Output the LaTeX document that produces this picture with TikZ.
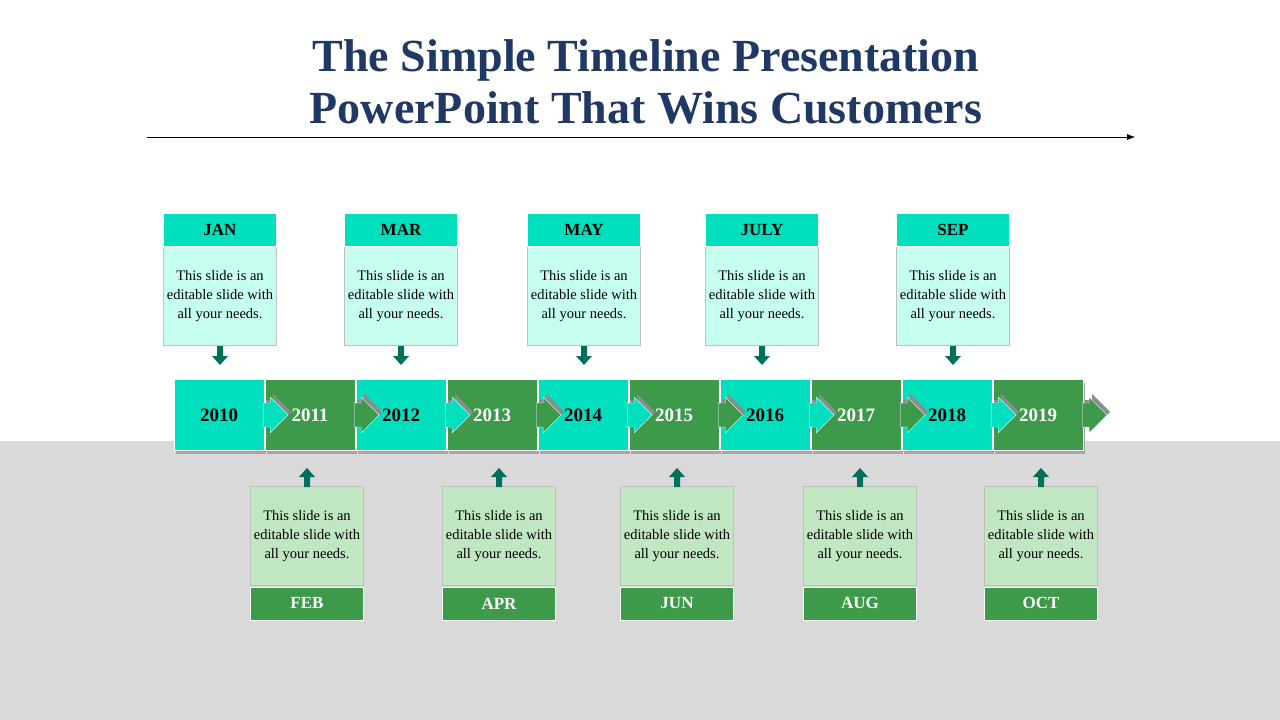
\documentclass[tikz,border=0pt]{standalone}
\usepackage{fontspec}
\setmainfont{Liberation Serif}
\usetikzlibrary{positioning,arrows.meta}
\definecolor{titleblue}{HTML}{1F3864}
\definecolor{aqua}{HTML}{00E0BE}
\definecolor{paleaqua}{HTML}{C6FFF0}
\definecolor{leaf}{HTML}{3C9A4A}
\definecolor{paleleaf}{HTML}{C0E6C2}
\definecolor{darkteal}{HTML}{00705C}
\definecolor{floor}{HTML}{D9D9D9}
\tikzset{yearbox/.style={rectangle,minimum width=90pt,minimum height=71pt,inner sep=0,font=\bfseries\fontsize{19}{19}\selectfont},
    headbox/.style={draw=white,rectangle,minimum width=113pt,minimum height=33pt,inner sep=0,font=\bfseries\fontsize{17}{17}\selectfont},
    textbox/.style={draw=black!25,rectangle,minimum width=113pt,minimum height=99pt,inner sep=0,align=center,font=\fontsize{14.5}{19}\selectfont},
    pointer/.style={fill=darkteal,draw=none}}
\begin{document}
\begin{tikzpicture}[x=1pt,y=-1pt]
\useasboundingbox (0,0) rectangle (1280,720);
\fill[floor] (0,441) rectangle (1280,720);

\node (title) [text=titleblue,align=center,font=\bfseries\fontsize{46}{52}\selectfont] at (646,82) {The Simple Timeline Presentation\\PowerPoint That Wins Customers};
\coordinate (rule a) at (147,137);
\coordinate (rule b) at (1135,137);
\draw [-{Latex[length=8pt,width=6pt]},thin] (rule a) -- (rule b);

% year blocks
\foreach \i/\yr in {0/2010,1/2011,2/2012,3/2013,4/2014,5/2015,6/2016,7/2017,8/2018,9/2019} {
  \pgfmathsetmacro{\cx}{219+91*\i}
  \pgfmathtruncatemacro{\odd}{mod(\i,2)}
  \ifnum\odd=0 \def\bc{aqua}\def\tc{black}\else \def\bc{leaf}\def\tc{white}\fi
  \fill[black!35] (\cx-43,417-34) rectangle (\cx+47,417+37);
  \node (y \i) [yearbox,fill=\bc,draw=white,text=\tc] at (\cx,415) {\yr};
}
% arrow tips on top of the blocks
\foreach \i in {0,...,9} {
  \pgfmathtruncatemacro{\odd}{mod(\i,2)}
  \ifnum\odd=0 \def\bc{aqua}\else \def\bc{leaf}\fi
  \fill[black!45] ([xshift=2pt,yshift=3pt]y \i.east) ++(0,-12) -- ++(7,0) -- ++(0,-6) -- ++(18,18) -- ++(-18,18) -- ++(0,-6) -- ++(-7,0) -- cycle;
  \fill[\bc,draw=white] ([xshift=-1pt]y \i.east) ++(0,-12) -- ++(7,0) -- ++(0,-6) -- ++(18,18) -- ++(-18,18) -- ++(0,-6) -- ++(-7,0) -- cycle;
}

% top notes
\foreach \i/\m/\x in {0/JAN/220,1/MAR/401,2/MAY/584,3/JULY/762,4/SEP/953} {
  \node (tb \i) [textbox,fill=paleaqua] at (\x,296) {This slide is an\\editable slide with\\all your needs.};
  \node (th \i) [headbox,fill=aqua,above=0pt of tb \i] {\m};
  \fill[pointer] (\x-3,346) -- (\x+3,346) -- (\x+3,356) -- (\x+8,356) -- (\x,365) -- (\x-8,356) -- (\x-3,356) -- cycle;
}

% bottom notes
\foreach \i/\m/\x in {0/FEB/307,1/APR/499,2/JUN/677,3/AUG/860,4/OCT/1041} {
  \node (bb \i) [textbox,fill=paleleaf] at (\x,536) {This slide is an\\editable slide with\\all your needs.};
  \node (bh \i) [headbox,fill=leaf,text=white,below=1pt of bb \i] {\m};
  \fill[pointer] (\x-3,487) -- (\x+3,487) -- (\x+3,477) -- (\x+8,477) -- (\x,468) -- (\x-8,477) -- (\x-3,477) -- cycle;
}
\end{tikzpicture}
\end{document}
